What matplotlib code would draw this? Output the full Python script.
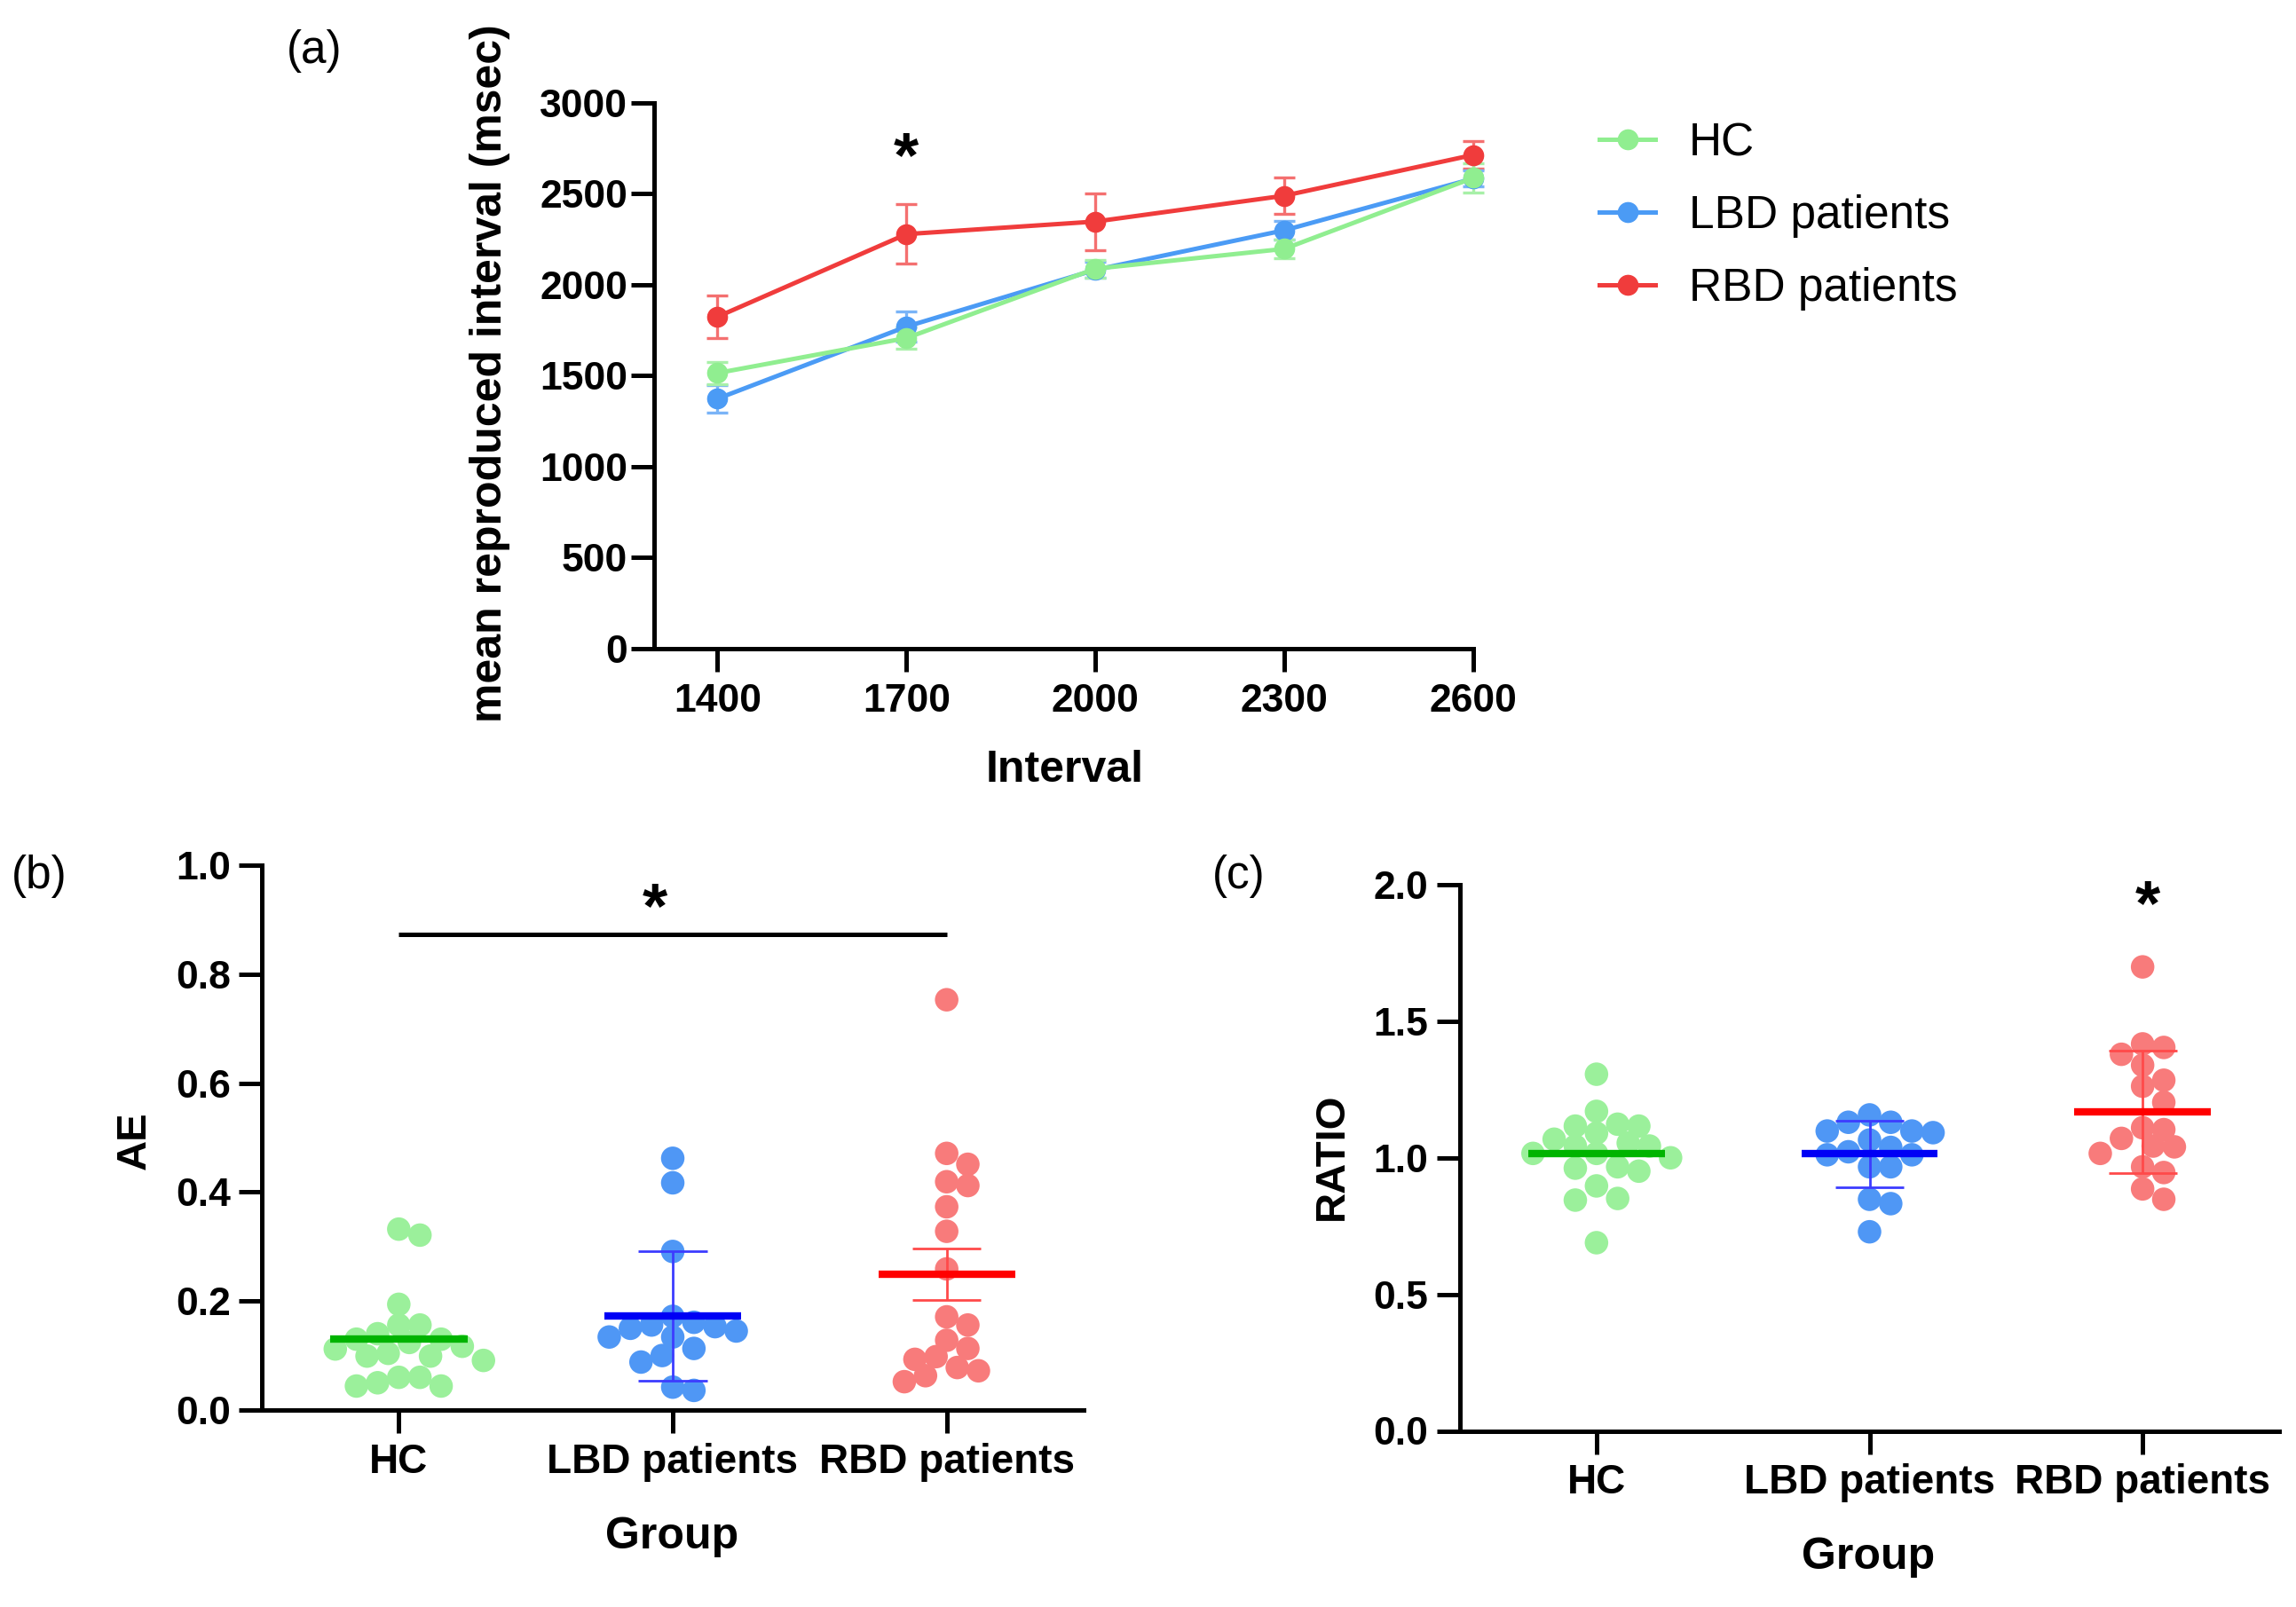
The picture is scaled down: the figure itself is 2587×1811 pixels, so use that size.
import matplotlib
matplotlib.use('Agg')
import matplotlib.pyplot as plt
import matplotlib.transforms as mtransforms
from matplotlib.lines import Line2D
import numpy as np

plt.rcParams['font.family'] = ['Liberation Sans', 'DejaVu Sans']
plt.rcParams['font.weight'] = 'bold'

# ---------------- data ----------------
# Panel (a): mean reproduced interval per target interval
intervals = [1400, 1700, 2000, 2300, 2600]
hc_mean = [1514, 1706, 2087, 2196, 2586]
hc_err = [60, 60, 50, 50, 80]
lbd_mean = [1373, 1769, 2081, 2298, 2582]
lbd_err = [75, 85, 45, 50, 45]
rbd_mean = [1823, 2277, 2346, 2488, 2712]
rbd_err = [117, 163, 156, 98, 76]
a_yticks = [0, 500, 1000, 1500, 2000, 2500, 3000]

groups = ['HC', 'LBD patients', 'RBD patients']

# Panel (b): AE per subject
ae_hc = [0.321, 0.332, 0.194, 0.156, 0.156, 0.140, 0.124, 0.130, 0.130, 0.104,
         0.099, 0.112, 0.117, 0.099, 0.091, 0.044, 0.060, 0.050, 0.060, 0.044]
ae_lbd = [0.462, 0.417, 0.291, 0.161, 0.153, 0.150, 0.156, 0.172, 0.134, 0.134,
          0.145, 0.100, 0.113, 0.088, 0.036, 0.042]
ae_rbd = [0.753, 0.471, 0.451, 0.412, 0.419, 0.373, 0.328, 0.259, 0.171, 0.156,
          0.128, 0.113, 0.093, 0.098, 0.072, 0.078, 0.063, 0.052]
ae_center = [0.130, 0.172, 0.249]
ae_spread = [0.0, 0.119, 0.047]
b_yticks = [0.0, 0.2, 0.4, 0.6, 0.8, 1.0]

# Panel (c): RATIO per subject
ratio_hc = [1.306, 1.170, 1.116, 1.123, 1.116, 1.090, 1.068, 1.043, 1.043, 1.054,
            1.016, 1.016, 1.000, 0.962, 0.951, 0.967, 0.897, 0.845, 0.851, 0.689]
ratio_lbd = [1.130, 1.130, 1.157, 1.098, 1.092, 1.098, 1.038, 1.065, 1.022, 1.011,
             1.011, 0.967, 0.967, 0.848, 0.832, 0.729]
ratio_rbd = [1.699, 1.404, 1.379, 1.417, 1.339, 1.284, 1.262, 1.203, 1.103, 1.110,
             1.071, 1.043, 1.040, 1.016, 0.967, 0.946, 0.886, 0.848]
ratio_center = [1.016, 1.014, 1.168]
ratio_spread = [0.0, 0.122, 0.224]
c_yticks = [0.0, 0.5, 1.0, 1.5, 2.0]

# ---------------- styles ----------------
W, H = 2587, 1811
line_cols = ['#90EE90', '#4B9BF5', '#F03C3C']
err_cols = ['#A8F0A8', '#7AB4F7', '#F47070']
pt_cols = ['#9BF09B', '#4F97F5', '#F87B7B']
mean_cols = ['#00B400', '#0000F5', '#FF0000']
bar_cols = ['#00B400', '#3C3CFF', '#FF4A4A']

fig = plt.figure(figsize=(W / 100, H / 100), dpi=100)


def frac_axes(l, t, r, b):
    return fig.add_axes([l / W, 1 - b / H, (r - l) / W, (b - t) / H])


def style_axes(ax, ypad, xpad, xsize, ysize):
    for s in ['top', 'right']:
        ax.spines[s].set_visible(False)
    for s in ['left', 'bottom']:
        ax.spines[s].set_linewidth(3.6)
    ax.tick_params(axis='both', width=3.6, length=19, color='black')
    ax.tick_params(axis='y', pad=ypad, labelsize=ysize)
    ax.tick_params(axis='x', pad=xpad, labelsize=xsize)


def place_star(ax, x, y, fs=52):
    tr = mtransforms.offset_copy(ax.transData, fig=fig, y=-0.585 * fs, units='points')
    ax.text(x, y, '*', transform=tr, ha='center', va='baseline', fontsize=fs,
            fontweight='bold', color='black', clip_on=False)


# ---------------- panel (a) ----------------
ax_a = frac_axes(737.5, 115.5, 1660, 731)
ax_a.set_xlim(1300, 2600)
ax_a.set_ylim(0, 3000)
series = [(rbd_mean, rbd_err, 2), (lbd_mean, lbd_err, 1), (hc_mean, hc_err, 0)]
for means, errs, gi in series:
    ax_a.errorbar(intervals, means, yerr=errs, fmt='none', ecolor=err_cols[gi],
                  elinewidth=2.4, capsize=8.5, capthick=2.4, zorder=3, clip_on=False)
    ax_a.plot(intervals, means, color=line_cols[gi], lw=3.6, marker='o', ms=16,
              zorder=4, clip_on=False)
ax_a.set_xticks(intervals)
ax_a.set_yticks(a_yticks)
style_axes(ax_a, ypad=3, xpad=9, xsize=32, ysize=32)
place_star(ax_a, 1700, 2800)

fig.text(1199.5 / W, 1 - 881 / H, 'Interval', ha='center', va='baseline', fontsize=36)
fig.text(552 / W, 1 - 421 / H, 'mean reproduced interval (msec)', rotation=90,
         ha='center', va='center', fontsize=36)

handles = [Line2D([], [], color=line_cols[i], lw=3.6, marker='o', ms=16) for i in range(3)]
fig.legend(handles, groups, loc='upper left', bbox_to_anchor=(1802 / W, 1 - 137 / H),
           frameon=False, prop={'size': 37, 'weight': 'normal'}, handlelength=1.23,
           handletextpad=0.74, labelspacing=0.64, borderpad=0, borderaxespad=0)


# ---------------- swarm helper ----------------
def swarm_offsets(ax, xc, values, diam_px, step_frac=0.45, min_frac=0.82):
    vals = np.asarray(values, dtype=float)
    pts = ax.transData.transform(np.column_stack([np.full(len(vals), xc), vals]))
    ys = pts[:, 1]
    x0 = ax.transData.transform((xc, 0))[0]
    ppu = ax.transData.transform((xc + 1, 0))[0] - x0
    order = np.argsort(-vals)
    placed = []
    offs = np.zeros(len(vals))
    step = diam_px * step_frac
    cand = [0]
    for k in range(1, 30):
        cand += [k, -k]
    for i in order:
        chosen = 0.0
        for k in cand:
            xx = k * step
            if all((xx - px) ** 2 + (ys[i] - py) ** 2 >= (min_frac * diam_px) ** 2
                   for px, py in placed):
                chosen = xx
                break
        placed.append((chosen, ys[i]))
        offs[i] = chosen / ppu
    return offs


def dot_panel(ax, data, centers, spreads):
    diam = 26.5
    ax.set_xlim(-0.5, 2.5)
    for gi, vals in enumerate(data):
        offs = swarm_offsets(ax, gi, vals, diam)
        ax.scatter(gi + offs, vals, s=(diam * 0.72) ** 2, color=pt_cols[gi],
                   edgecolors='none', zorder=3, clip_on=False)
        ax.hlines(centers[gi], gi - 0.25, gi + 0.25, color=mean_cols[gi], lw=6, zorder=5)
        if spreads[gi] > 0:
            lo = centers[gi] - spreads[gi]
            hi = centers[gi] + spreads[gi]
            ax.vlines(gi, lo, hi, color=bar_cols[gi], lw=2, zorder=4)
            ax.hlines([lo, hi], gi - 0.125, gi + 0.125, color=bar_cols[gi], lw=2, zorder=4)
    ax.set_xticks(range(len(groups)))
    ax.set_xticklabels(groups)


# ---------------- panel (b) ----------------
ax_b = frac_axes(295, 975, 1221, 1589)
ax_b.set_ylim(0, 1.0)
ax_b.set_yticks(b_yticks)
ax_b.set_yticklabels([f'{v:.1f}' for v in b_yticks])
dot_panel(ax_b, [ae_hc, ae_lbd, ae_rbd], ae_center, ae_spread)
style_axes(ax_b, ypad=6, xpad=8, xsize=33, ysize=32)
ax_b.plot([0, 2], [0.873, 0.873], color='black', lw=3.6, solid_capstyle='butt')
place_star(ax_b, 0.935, 0.954)
fig.text(152 / W, 1 - 1285 / H, 'AE', rotation=90, ha='center', va='center', fontsize=34)
fig.text(757 / W, 1 - 1745 / H, 'Group', ha='center', va='baseline', fontsize=36)

# ---------------- panel (c) ----------------
ax_c = frac_axes(1645, 997, 2568, 1612.5)
ax_c.set_ylim(0, 2.0)
ax_c.set_yticks(c_yticks)
ax_c.set_yticklabels([f'{v:.1f}' for v in c_yticks])
dot_panel(ax_c, [ratio_hc, ratio_lbd, ratio_rbd], ratio_center, ratio_spread)
style_axes(ax_c, ypad=7, xpad=7, xsize=33, ysize=32)
place_star(ax_c, 2.02, 1.992)
fig.text(1501 / W, 1 - 1303 / H, 'RATIO', rotation=90, ha='center', va='center', fontsize=34)
fig.text(2105 / W, 1 - 1768 / H, 'Group', ha='center', va='baseline', fontsize=36)

# ---------------- panel letters ----------------
fig.text(323 / W, 1 - 71.5 / H, '(a)', ha='left', va='baseline', fontsize=37, fontweight='normal')
fig.text(13 / W, 1 - 1000.5 / H, '(b)', ha='left', va='baseline', fontsize=37, fontweight='normal')
fig.text(1366 / W, 1 - 1000.5 / H, '(c)', ha='left', va='baseline', fontsize=37, fontweight='normal')

fig.savefig('out.png', dpi=100)
